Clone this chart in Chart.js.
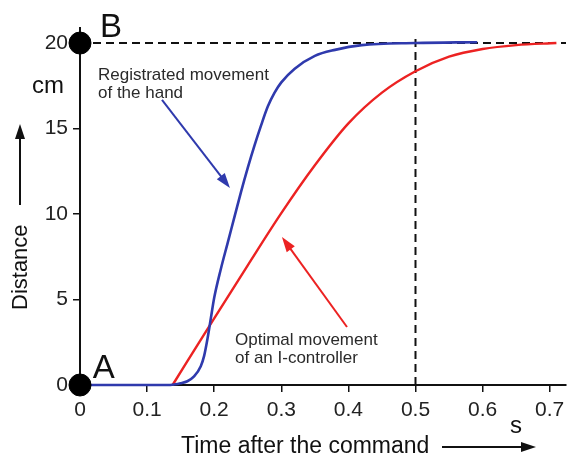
<!DOCTYPE html>
<html>
<head>
<meta charset="utf-8">
<script src="https://cdn.jsdelivr.net/npm/chart.js@4/dist/chart.umd.min.js"></script>
<style>
html,body{margin:0;padding:0;background:#fff;}
canvas{display:block;}
</style>
</head>
<body>
<canvas id="c" width="569" height="458"></canvas>
<script>
// ===== Data =====
const xTicks=[0,0.1,0.2,0.3,0.4,0.5,0.6,0.7];
const yTicks=[0,5,10,15,20];
const X_MAX=0.7243, Y_MAX=20.88;

// registrated movement of the hand (blue)
const handX=[0,0.13,0.14,0.15,0.16,0.17,0.18,0.185,0.19,0.195,0.2,0.21,0.22,0.23,0.24,0.25,0.26,0.27,0.28,0.29,0.3,0.32,0.35,0.38,0.42,0.5,0.592];
const handY=[0,0,0.03,0.1,0.22,0.5,1.1,1.7,2.7,3.9,5.1,6.8,8.3,9.8,11.3,12.7,14.0,15.2,16.3,17.1,17.7,18.5,19.25,19.6,19.88,20.0,20.05];

// optimal movement of an I-controller (red)
const ctrlX=[0.138,0.2,0.25,0.3,0.35,0.4,0.45,0.5,0.55,0.6,0.65,0.71];
const ctrlY=[0,3.9,7.0,10.05,12.85,15.3,17.1,18.35,19.2,19.65,19.88,20.0];

// start / end points A and B
const dotX=[0,0], dotY=[0,20];
const dotLabels=['A','B'];

// dashed guides
const guideHX=[0,X_MAX], guideHY=[20,20];
const guideVX=[0.5,0.5], guideVY=[0,20.4];

const FONT='"Liberation Sans", Arial, Helvetica, sans-serif';
const BLUE='#2f3aad', RED='#ec2222';

function pts(xs,ys){return xs.map((x,i)=>({x:x,y:ys[i]}));}

// ===== Arrow helper =====
function arrow(ctx,x1,y1,x2,y2,color,w,L,H){
    const a=Math.atan2(y2-y1,x2-x1);
    ctx.save();
    ctx.strokeStyle=color; ctx.fillStyle=color; ctx.lineWidth=w;
    ctx.beginPath(); ctx.moveTo(x1,y1);
    ctx.lineTo(x2-L*0.7*Math.cos(a),y2-L*0.7*Math.sin(a)); ctx.stroke();
    ctx.beginPath(); ctx.moveTo(x2,y2);
    ctx.lineTo(x2-L*Math.cos(a)+H*Math.sin(a),y2-L*Math.sin(a)-H*Math.cos(a));
    ctx.lineTo(x2-L*Math.cos(a)-H*Math.sin(a),y2-L*Math.sin(a)+H*Math.cos(a));
    ctx.closePath(); ctx.fill();
    ctx.restore();
}

// ===== Labels plugin =====
const labelsPlugin={
    id:'labels',
    afterDraw(chart){
        const ctx=chart.ctx, sx=chart.scales.x, sy=chart.scales.y;
        const px=v=>sx.getPixelForValue(v), py=v=>sy.getPixelForValue(v);
        ctx.save();
        ctx.fillStyle='#111';
        ctx.textBaseline='alphabetic';
        ctx.textAlign='left';

        // A and B
        ctx.font='33px '+FONT;
        ctx.fillText(dotLabels[0],px(0.019),py(0.4));
        ctx.fillText(dotLabels[1],px(0.0298),py(20.35));

        // unit labels
        ctx.font='24px '+FONT;
        ctx.fillText('cm',32,93);
        ctx.fillText('s',510,433);

        // y title rotated
        ctx.save();
        ctx.translate(27,310);
        ctx.rotate(-Math.PI/2);
        ctx.font='22px '+FONT;
        ctx.fillText('Distance',0,0);
        ctx.restore();
        arrow(ctx,20,205,20,124,'#111',2,15,5);

        // x title
        ctx.font='23px '+FONT;
        ctx.fillText('Time after the command',181,453);
        arrow(ctx,442,447,536,447,'#111',2,15,5);

        // annotations
        ctx.fillStyle='#2a2a2a';
        ctx.font='17px '+FONT;
        ctx.fillText('Registrated movement',px(0.0268),py(17.84));
        ctx.fillText('of the hand',px(0.0268),py(16.78));
        ctx.fillText('Optimal movement',px(0.231),py(2.34));
        ctx.fillText('of an I-controller',px(0.231),py(1.29));

        arrow(ctx,px(0.1222),py(16.67),px(0.2235),py(11.52),BLUE,2,15,5);
        arrow(ctx,px(0.3979),py(3.39),px(0.301),py(8.65),RED,2,15,5);
        ctx.restore();
    }
};

new Chart(document.getElementById('c'),{
    type:'scatter',
    data:{datasets:[
        {data:pts(dotX,dotY),pointRadius:11,pointHoverRadius:11,backgroundColor:'#000',borderColor:'#000',showLine:false,clip:false,order:0},
        {data:pts(handX,handY),showLine:true,borderColor:BLUE,borderWidth:2.6,pointRadius:0,cubicInterpolationMode:'monotone',clip:6,order:1},
        {data:pts(ctrlX,ctrlY),showLine:true,borderColor:RED,borderWidth:2.4,pointRadius:0,cubicInterpolationMode:'monotone',clip:6,order:2},
        {data:pts(guideHX,guideHY),showLine:true,borderColor:'#111',borderWidth:2,borderDash:[8,5],pointRadius:0,clip:false,order:3},
        {data:pts(guideVX,guideVY),showLine:true,borderColor:'#111',borderWidth:2,borderDash:[8,5],pointRadius:0,clip:false,order:3}
    ]},
    options:{
        responsive:false,
        animation:false,
        layout:{autoPadding:false,padding:{left:0,top:28,right:3,bottom:0}},
        plugins:{legend:{display:false},tooltip:{enabled:false}},
        scales:{
            x:{
                type:'linear',min:0,max:X_MAX,
                afterBuildTicks:s=>{s.ticks=xTicks.map(v=>({value:v}));},
                afterFit:s=>{s.height=73;s.paddingLeft=0;s.paddingRight=0;},
                border:{display:true,color:'#111',width:2},
                grid:{drawOnChartArea:false,drawTicks:true,tickLength:7,color:'#111',lineWidth:1.5},
                ticks:{color:'#222',font:{family:FONT,size:21},padding:6,maxRotation:0,autoSkip:false,
                    callback:v=>v===0?'0':v.toFixed(1)}
            },
            y:{
                type:'linear',min:0,max:Y_MAX,
                afterBuildTicks:s=>{s.ticks=yTicks.map(v=>({value:v}));},
                afterFit:s=>{s.width=80;s.paddingTop=0;s.paddingBottom=0;},
                border:{display:true,color:'#111',width:2},
                grid:{drawOnChartArea:false,drawTicks:true,tickLength:7,color:'#111',lineWidth:1.5},
                ticks:{color:'#222',font:{family:FONT,size:21},padding:5,autoSkip:false,
                    callback:v=>String(v)}
            }
        }
    },
    plugins:[labelsPlugin]
});
</script>
</body>
</html>
